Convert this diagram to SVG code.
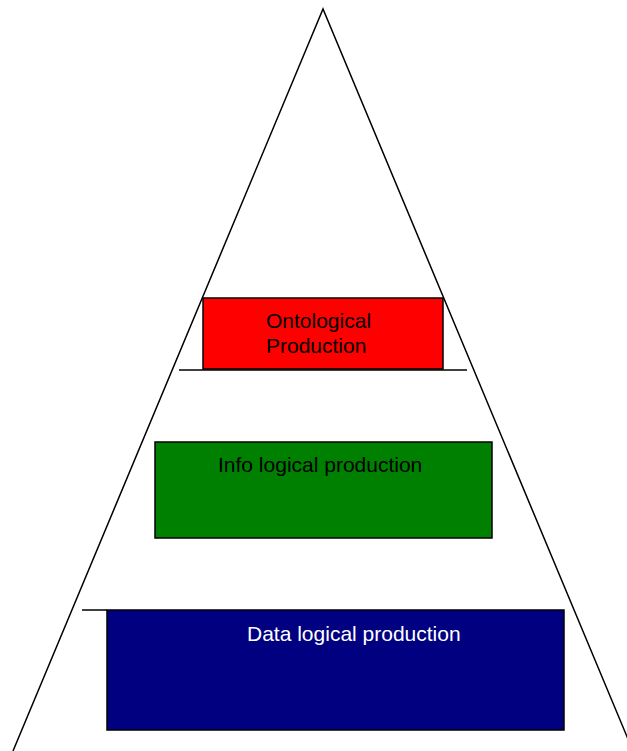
<svg xmlns="http://www.w3.org/2000/svg" width="627" height="751" viewBox="0 0 627 751">
<style>
.ln{fill:none;stroke:#000;stroke-width:1.5}
.box{stroke:#000;stroke-width:1.5}
.t{font-family:"Liberation Sans",Arial,sans-serif;font-size:21px}
</style>
<rect x="0" y="0" width="627" height="751" fill="#fff"/>
<g id="pyramid">
<polyline class="ln" points="13,751 323,9 633,751"/>
</g>
<g id="connectors">
<line class="ln" x1="179" y1="370" x2="467" y2="370"/>
<line class="ln" x1="82" y1="610" x2="107" y2="610"/>
</g>
<g id="ontological">
<rect class="box" x="203" y="298" width="240" height="71" fill="#ff0000"/>
<text class="t" x="266" y="328" fill="#000">Ontological</text>
<text class="t" x="266" y="353" fill="#000">Production</text>
</g>
<g id="info">
<rect class="box" x="155" y="442" width="337" height="96" fill="#008000"/>
<text class="t" x="218" y="472" fill="#000">Info logical production</text>
</g>
<g id="data">
<rect class="box" x="107" y="610" width="457" height="120" fill="#000080"/>
<text class="t" x="247" y="641" fill="#fff">Data logical production</text>
</g>
</svg>
